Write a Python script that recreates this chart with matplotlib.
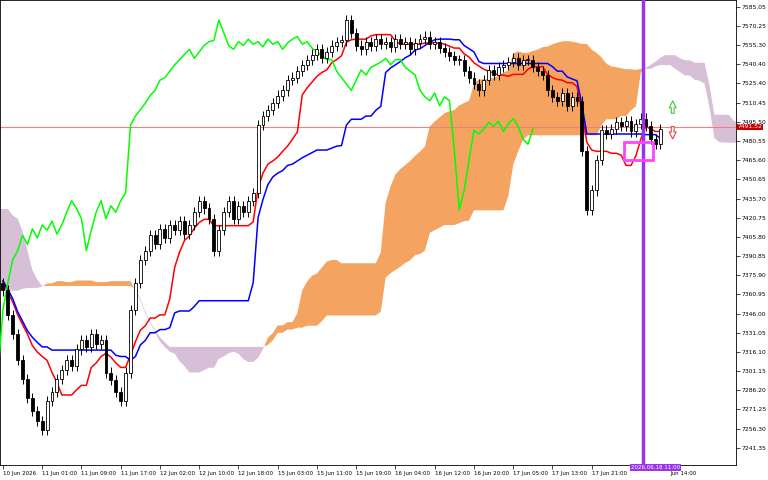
import matplotlib
matplotlib.use('Agg')
import matplotlib.pyplot as plt
import numpy as np

# hourly closes before the visible window (needed for the cloud on the left)
pre_closes = [7500, 7505, 7495, 7490, 7470, 7440, 7410, 7395, 7385, 7378,
              7372, 7365, 7370, 7362, 7368, 7360, 7365, 7358, 7362, 7355,
              7360, 7358, 7365, 7370, 7365, 7360, 7368, 7372, 7370, 7365,
              7372, 7368, 7360, 7355, 7362, 7358, 7365, 7370, 7360, 7355,
              7350, 7358, 7362, 7368, 7372, 7365, 7360, 7355, 7362, 7370,
              7375, 7368, 7362, 7358, 7365, 7372, 7378, 7370, 7365, 7372,
              7380, 7385, 7378, 7372, 7368, 7362, 7370, 7375, 7380, 7372,
              7368, 7362, 7370, 7375, 7380, 7372, 7368, 7370]
closes = [7364, 7345, 7330, 7310, 7295, 7280, 7270, 7262, 7255,
          7278, 7285, 7295, 7302, 7310, 7305, 7318, 7325,
          7320, 7330, 7322, 7325, 7300, 7294, 7285, 7278, 7300,
          7349, 7370, 7388, 7395, 7407, 7400, 7412, 7405, 7415, 7411,
          7418, 7408, 7415, 7425, 7434, 7428, 7420, 7395, 7411, 7425,
          7434, 7420, 7430, 7425, 7434, 7440,
          7493, 7500, 7505, 7510, 7516, 7520, 7528, 7530, 7535, 7540, 7544, 7548,
          7552, 7545, 7550, 7555, 7558, 7559,
          7575, 7565, 7555, 7552, 7558, 7555, 7560,
          7556, 7558, 7554, 7560, 7556, 7558, 7552, 7557, 7560, 7562, 7556, 7558, 7553,
          7550, 7547, 7544, 7544, 7535, 7530, 7525,
          7520, 7528, 7536, 7532, 7538, 7540, 7542, 7545, 7540, 7544,
          7544, 7538, 7535, 7532, 7520, 7515, 7512, 7518, 7508, 7515, 7512,
          7473, 7427, 7442, 7466, 7489, 7486,
          7490, 7495, 7492, 7496, 7488, 7494, 7498, 7492, 7482, 7478, 7490]
wick = 4.0
last_price = 7491.52
price_ticks = [7585.05, 7570.25, 7555.30, 7540.40, 7525.40, 7510.45, 7495.50, 7480.55,
               7465.60, 7450.65, 7435.70, 7420.75, 7405.80, 7390.85, 7375.90, 7360.95,
               7346.00, 7331.05, 7316.10, 7301.15, 7286.20, 7271.25, 7256.30, 7241.35]
time_labels = ['10 Jun 2026', '11 Jun 01:00', '11 Jun 09:00', '11 Jun 17:00', '12 Jun 02:00',
               '12 Jun 10:00', '12 Jun 18:00', '15 Jun 03:00', '15 Jun 11:00', '15 Jun 19:00',
               '16 Jun 04:00', '16 Jun 12:00', '16 Jun 20:00', '17 Jun 05:00', '17 Jun 13:00',
               '17 Jun 21:00', '', 'Jun 14:00']
cursor_bar = 130.5
cursor_label = '2026.06.18 11:00'

allc = np.array(pre_closes + closes, dtype=float)
n_pre = len(pre_closes)
idx = np.arange(len(allc)) - n_pre
opens = np.concatenate([[allc[0]], allc[:-1]])
highs = np.maximum(opens, allc) + wick
lows = np.minimum(opens, allc) - wick

def mid(period):
    out = np.full(len(allc), np.nan)
    for i in range(period - 1, len(allc)):
        out[i] = (highs[i - period + 1:i + 1].max() + lows[i - period + 1:i + 1].min()) / 2
    return out

tenkan = mid(9)
kijun = mid(26)
span_a = (tenkan + kijun) / 2
span_b = mid(52)

fig = plt.figure(figsize=(7.68, 4.8), dpi=100)
ax = fig.add_axes([0.0, 15 / 480, 736 / 768, 465 / 480])

# cloud shifted 26 bars ahead
xs = idx + 26
ax.fill_between(xs, span_a, span_b, where=span_a >= span_b, interpolate=True,
                color='#f4a460', lw=0, zorder=1)
ax.fill_between(xs, span_a, span_b, where=span_a < span_b, interpolate=True,
                color='#d8bfd8', lw=0, zorder=1)

ax.axhline(last_price, color='#f08080', lw=0.8, zorder=2)

vis = idx >= 0
ax.plot(idx[vis], tenkan[vis], color='red', lw=1.1, zorder=4)
ax.plot(idx[vis], kijun[vis], color='blue', lw=1.1, zorder=4)
ax.plot(idx[vis] - 26, allc[vis], color='lime', lw=1.1, zorder=4)

for i in np.where(vis)[0]:
    o, c = opens[i], allc[i]
    x = idx[i]
    ax.vlines(x, lows[i], highs[i], color='black', lw=0.7, zorder=5)
    bull = c >= o
    ax.bar(x, max(abs(c - o), 0.6), bottom=min(o, c), width=0.6,
           facecolor='white' if bull else 'black', edgecolor='black', lw=0.6, zorder=6)

ax.axvline(cursor_bar, color='#9933ee', lw=2.5, zorder=7)
ax.add_patch(plt.Rectangle((126.5, 7465.5), 6, 14.5, fill=False, ec='#ff44ff', lw=2, zorder=8))
ax.annotate('', xy=(136.5, 7514), xytext=(136.5, 7500),
            arrowprops=dict(arrowstyle='simple', fc='white', ec='#33cc33', lw=0.8))
ax.annotate('', xy=(136.5, 7480), xytext=(136.5, 7494),
            arrowprops=dict(arrowstyle='simple', fc='white', ec='#ee4444', lw=0.8))

ax.set_xlim(-0.6, 149.4)
ax.set_ylim(7227.9, 7590.5)
ax.yaxis.tick_right()
ax.set_yticks(price_ticks)
ax.set_yticklabels(['%.2f' % p for p in price_ticks], fontsize=4.3)
ax.set_xticks(np.arange(len(time_labels)) * 8)
ax.set_xticklabels(time_labels, fontsize=4.0, ha='left')
ax.tick_params(length=3, width=0.5, pad=1)
for s in ax.spines.values():
    s.set_linewidth(0.6)
ax.text(1.002, last_price, '%.2f' % last_price, transform=ax.get_yaxis_transform(),
        fontsize=4.3, color='white', va='center', ha='left',
        bbox=dict(boxstyle='square,pad=0.15', fc='#cc0000', ec='none'))
ax.text(cursor_bar - 2.5, 7227.9, cursor_label, fontsize=4.0, color='white', va='top', ha='left',
        bbox=dict(boxstyle='square,pad=0.2', fc='#9933ee', ec='none'), zorder=9, clip_on=False)

fig.savefig('out.png', dpi=100)
